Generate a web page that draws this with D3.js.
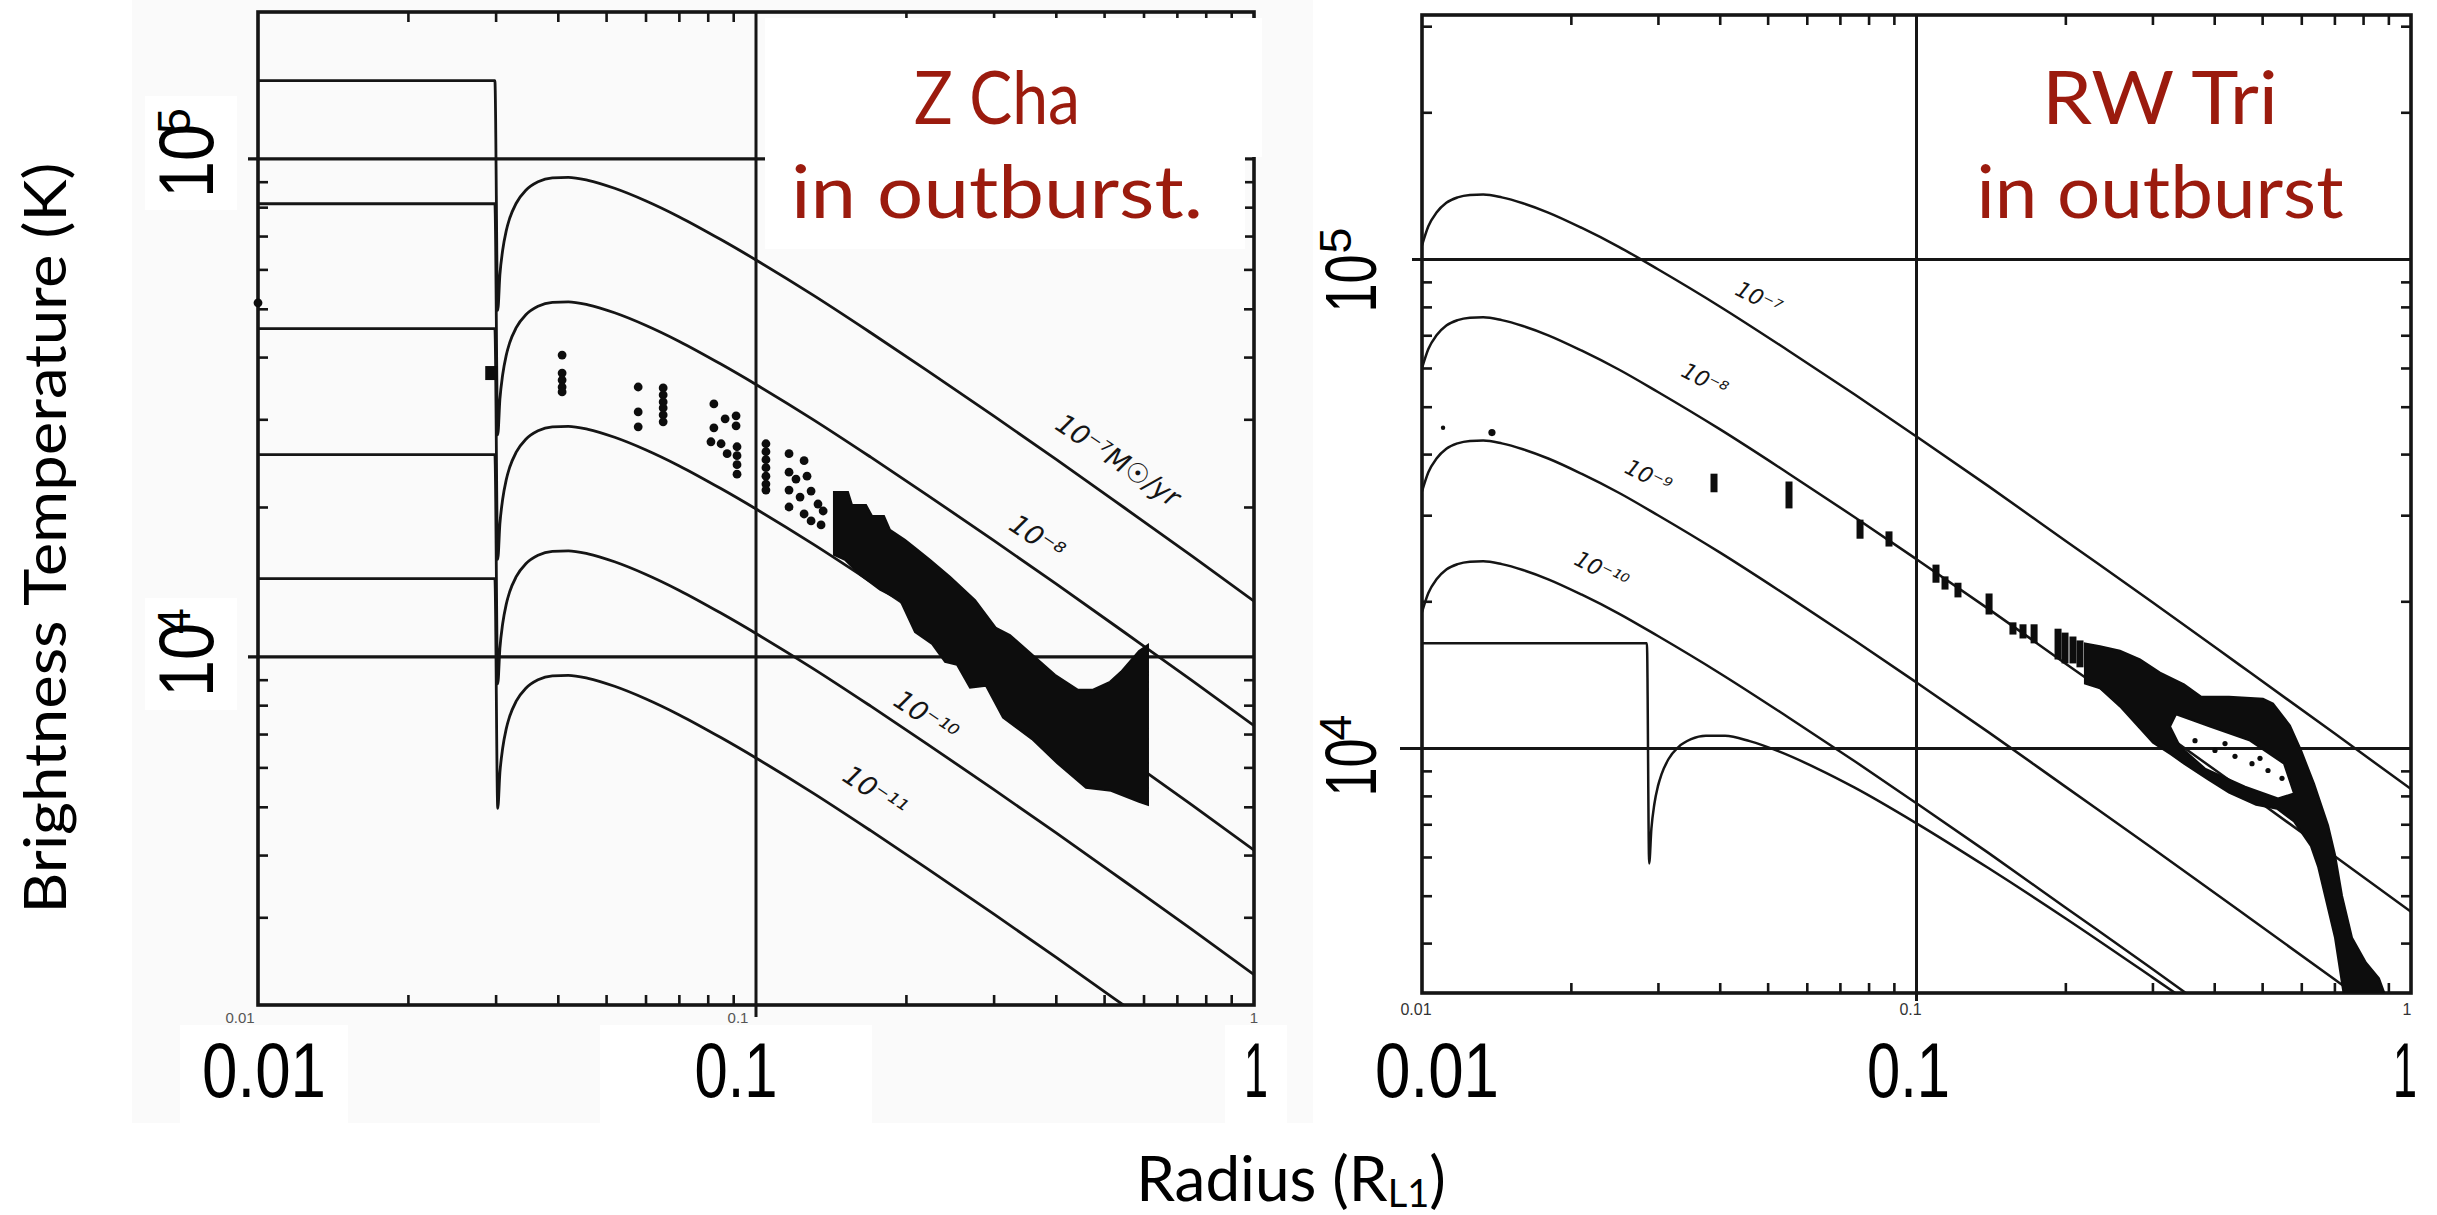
<!DOCTYPE html>
<html><head><meta charset="utf-8">
<script src="https://d3js.org/d3.v7.min.js"></script>
<style>body{margin:0;background:#fff}svg{display:block}</style>
</head><body>
<svg id="chart" width="2437" height="1215"></svg>
<script>
// ---------------- DATA ----------------
// x: radius in units of R_L1 ; y: log10 of brightness temperature (K)
const radiusTicks = [0.01, 0.1, 1];
const radiusTickLabels = ["0.01", "0.1", "1"];
const tempDecades = [4, 5];               // log10 T of the labelled decades
const tempDecadeLabels = ["4", "5"];       // exponent of 10
const minorRadius = [0.02,0.03,0.04,0.05,0.06,0.07,0.08,0.09,0.2,0.3,0.4,0.5,0.6,0.7,0.8,0.9];
const minorTempLeft = [3e3,4e3,5e3,6e3,7e3,8e3,9e3,2e4,3e4,4e4,5e4,6e4,7e4,8e4,9e4];
const minorTempRight = [4e3,5e3,6e3,7e3,8e3,9e3,2e4,3e4,4e4,5e4,6e4,7e4,8e4,9e4,2e5,3e5];

// ---- Z Cha panel: steady-state model curves (10^-7 ... 10^-11 Msun/yr)
const zchaInnerRadius = 0.0299;
const zchaStepLogT = [5.157, 4.910, 4.659, 4.406, 4.157];
const zchaRadius = [0.0303,0.0306,0.031,0.0315,0.032,0.033,0.0345,0.0365,0.039,0.042,0.046,0.052,0.06,0.07,0.085,0.1,0.13,0.17,0.22,0.3,0.4,0.55,0.75,1.0];
const zchaModel7  = [4.696,4.767,4.817,4.855,4.880,4.911,4.937,4.954,4.962,4.963,4.957,4.941,4.916,4.884,4.838,4.797,4.727,4.651,4.576,4.484,4.397,4.299,4.203,4.112];
const zchaModel8  = [4.446,4.517,4.567,4.605,4.630,4.661,4.687,4.704,4.712,4.713,4.707,4.691,4.666,4.634,4.588,4.547,4.477,4.401,4.326,4.234,4.147,4.049,3.953,3.862];
const zchaModel9  = [4.196,4.267,4.317,4.355,4.380,4.411,4.437,4.454,4.462,4.463,4.457,4.441,4.416,4.384,4.338,4.297,4.227,4.151,4.076,3.984,3.897,3.799,3.703,3.612];
const zchaModel10 = [3.946,4.017,4.067,4.105,4.130,4.161,4.187,4.204,4.212,4.213,4.207,4.191,4.166,4.134,4.088,4.047,3.977,3.901,3.826,3.734,3.647,3.549,3.453,3.362];
const zchaModel11 = [3.696,3.767,3.817,3.855,3.880,3.911,3.937,3.954,3.962,3.963,3.957,3.941,3.916,3.884,3.838,3.797,3.727,3.651,3.576,3.484,3.397,3.299,3.203,3.112];
const zchaCurveLabels = ["10\u207B\u2077M\u2609/yr", "10\u207B\u2078", null, "10\u207B\u00B9\u2070", "10\u207B\u00B9\u00B9"];
const zchaLabelAnchors = [[0.531,4.392],[0.365,4.237],null,[0.2186,3.878],[0.1726,3.727]];

// ---- Z Cha eclipse-map points
const zchaSquare = [0.0294, 4.570];
const zchaPoints = [
 [0.01,4.711],
 [0.0408,4.606],[0.0408,4.570],[0.0408,4.556],[0.0408,4.542],[0.0408,4.532],
 [0.0580,4.542],[0.0580,4.492],[0.0580,4.462],
 [0.0651,4.540],[0.0651,4.526],[0.0651,4.512],[0.0651,4.500],[0.0651,4.486],[0.0651,4.472],
 [0.0823,4.508],[0.0867,4.478],[0.0912,4.484],[0.0823,4.460],[0.0912,4.464],[0.0812,4.432],[0.0851,4.428],
 [0.0916,4.422],[0.0875,4.408],[0.0916,4.404],[0.0916,4.386],[0.0916,4.367],
 [0.1047,4.428],[0.1047,4.412],[0.1047,4.396],[0.1047,4.380],[0.1047,4.363],[0.1047,4.347],[0.1047,4.335],
 [0.1165,4.408],[0.1249,4.394],[0.1165,4.371],[0.1203,4.357],[0.1266,4.363],[0.1165,4.335],[0.1226,4.321],
 [0.1290,4.333],[0.1165,4.301],[0.1249,4.287],[0.1290,4.273],
 [0.1332,4.307],[0.1364,4.293],[0.1351,4.265]
];
// dense part of the Z Cha map: upper edge (left->right) and lower edge (right->left)
const zchaBandUpper = [[0.1434,4.331],[0.1530,4.331],[0.1559,4.305],[0.1663,4.305],[0.1710,4.283],[0.1807,4.283],[0.1858,4.255],[0.1991,4.235],[0.2086,4.219],[0.2235,4.195],[0.2452,4.161],[0.2754,4.114],[0.3034,4.058],[0.3236,4.044],[0.3650,3.998],[0.3985,3.964],[0.4432,3.934],[0.4750,3.934],[0.5138,3.950],[0.5406,3.970],[0.5876,4.012],[0.6125,4.024]];
const zchaBandLower = [[0.6125,3.703],[0.5876,3.709],[0.5162,3.731],[0.4599,3.737],[0.4022,3.787],[0.3583,3.835],[0.3133,3.878],[0.2896,3.942],[0.2690,3.938],[0.2533,3.984],[0.2397,3.990],[0.2257,4.026],[0.2086,4.050],[0.1947,4.114],[0.1774,4.135],[0.1618,4.165],[0.1509,4.195],[0.1434,4.205]];

// ---- RW Tri panel: model curves (10^-7 ... 10^-10)
const rwRadius = [0.01,0.0103,0.0107,0.0112,0.0118,0.0125,0.0133,0.0145,0.016,0.018,0.021,0.025,0.03,0.04,0.055,0.075,0.1,0.14,0.2,0.3,0.45,0.7,1.0];
const rwModel7  = [5.029,5.068,5.096,5.116,5.127,5.132,5.133,5.127,5.115,5.096,5.065,5.026,4.980,4.904,4.814,4.724,4.638,4.536,4.425,4.299,4.171,4.031,3.917];
const rwModel8  = [4.778,4.817,4.845,4.865,4.876,4.881,4.882,4.876,4.864,4.845,4.814,4.775,4.729,4.653,4.563,4.473,4.387,4.285,4.174,4.048,3.920,3.780,3.666];
const rwModel9  = [4.526,4.565,4.593,4.613,4.624,4.629,4.630,4.624,4.612,4.593,4.562,4.523,4.477,4.401,4.311,4.221,4.135,4.033,3.922,3.796,3.668,3.528,3.414];
const rwModel10 = [4.279,4.318,4.346,4.366,4.377,4.382,4.383,4.377,4.365,4.346,4.315,4.276,4.230,4.154,4.064,3.974,3.888,3.786,3.675,3.549,3.421,3.281,3.167];
const rwCurveLabels = ["10\u207B\u2077", "10\u207B\u2078", "10\u207B\u2079", "10\u207B\u00B9\u2070"];
const rwLabelAnchors = [[0.0478,4.918],[0.0372,4.751],[0.0286,4.554],[0.0230,4.362]];
// extra curve with a larger inner radius
const rwWideInnerRadius = 0.0285;
const rwWideStepLogT = 4.215;
const rwWideRadius = [0.0288,0.0291,0.0295,0.03,0.0305,0.0315,0.033,0.035,0.0375,0.041,0.046,0.053,0.063,0.075,0.1,0.14,0.2,0.3,0.4];
const rwWideModel  = [3.765,3.836,3.886,3.923,3.947,3.978,4.003,4.019,4.026,4.026,4.015,3.993,3.959,3.920,3.847,3.755,3.653,3.532,3.445];

// ---- RW Tri eclipse-map points
const rwPoints = [[0.01103,4.656,2.2],[0.01385,4.646,3.6]];
const rwBars = [[0.03895,4.524,4.562],[0.05523,4.491,4.546],[0.07688,4.429,4.468],[0.08798,4.413,4.444],
 [0.1095,4.339,4.376],[0.1142,4.325,4.352],[0.1213,4.309,4.339],[0.1402,4.274,4.317],[0.1567,4.233,4.258],
 [0.1642,4.225,4.254],[0.1729,4.215,4.254],[0.1933,4.182,4.245],[0.1997,4.174,4.237],[0.2072,4.174,4.229],[0.2141,4.166,4.221]];
const rwBandUpper = [[0.2191,4.215],[0.2350,4.209],[0.2579,4.200],[0.2831,4.182],[0.3108,4.155],[0.3475,4.131],[0.3761,4.106],[0.4285,4.106],[0.5020,4.102],[0.5260,4.092],[0.5691,4.047],[0.5994,3.996],[0.6366,3.928],[0.6796,3.843],[0.7020,3.783],[0.7253,3.699],[0.7599,3.613],[0.8110,3.562],[0.8614,3.530],[0.8984,3.480]];
const rwBandLower = [[0.7354,3.480],[0.7020,3.613],[0.6701,3.699],[0.6485,3.759],[0.6278,3.800],[0.5799,3.851],[0.5358,3.877],[0.4860,3.885],[0.4285,3.910],[0.3886,3.937],[0.3475,3.969],[0.3271,3.988],[0.3008,4.012],[0.2579,4.086],[0.2350,4.123],[0.2191,4.133]];
const rwBandHole = [[0.3348,4.070],[0.3922,4.045],[0.4725,4.016],[0.5536,3.969],[0.5799,3.908],[0.5383,3.898],[0.4617,3.922],[0.3832,3.959],[0.3411,4.004],[0.3256,4.045]];
const rwHolePoints = [[0.3658,4.016],[0.4014,3.996],[0.4406,3.984],[0.4769,3.969],[0.5138,3.955],[0.5484,3.939],[0.4206,4.010],[0.4950,3.980]];

const titleLeft = ["Z Cha", "in outburst."];
const titleRight = ["RW Tri", "in outburst"];
const yTitle = "Brightness Temperature (K)";
const xTitle = ["Radius (R", "L1", ")"];

// ---------------- DRAWING ----------------
const ink = "#151515";
const red = "#9b1b0e";
const svg = d3.select("#chart");
const defs = svg.append("defs");

function makePanel(cfg){
  const P = Object.assign({}, cfg);
  P.x = d3.scaleLog().domain([0.01, 1]).range([cfg.x0, cfg.x1]);
  P.y = d3.scaleLinear().domain(cfg.logTDomain).range([cfg.yBot, cfg.yTop]);
  defs.append("clipPath").attr("id", "clip" + cfg.id).append("rect")
    .attr("x", cfg.x0).attr("y", cfg.yTop).attr("width", cfg.x1 - cfg.x0).attr("height", cfg.yBot - cfg.yTop);
  return P;
}
const PL = makePanel({id:"L", x0:258, x1:1254, yTop:12, yBot:1005, logTDomain:[3.301, 5.295]});
const PR = makePanel({id:"R", x0:1422, x1:2411, yTop:15, yBot:993, logTDomain:[3.5, 5.5]});

// light scanned-paper background of the left figure
svg.append("rect").attr("x", 132).attr("y", 0).attr("width", 1181).attr("height", 1123).attr("fill", "#fafafa");

function frameAndTicks(P, minorT, g){
  const mk = (axis, tr) => {
    const a = g.append("g").attr("transform", tr).call(axis);
    a.select(".domain").remove();
    a.selectAll("line").attr("stroke", ink).attr("stroke-width", 2.6);
    a.selectAll("text").remove();
  };
  const yMinor = minorT.map(Math.log10);
  mk(d3.axisBottom(P.x).tickValues(minorRadius).tickSize(-10), `translate(0,${P.yBot})`);
  mk(d3.axisTop(P.x).tickValues(minorRadius).tickSize(-10), `translate(0,${P.yTop})`);
  mk(d3.axisLeft(P.y).tickValues(yMinor).tickSize(-10), `translate(${P.x0},0)`);
  mk(d3.axisRight(P.y).tickValues(yMinor).tickSize(-10), `translate(${P.x1},0)`);
  g.append("rect").attr("x", P.x0).attr("y", P.yTop).attr("width", P.x1 - P.x0).attr("height", P.yBot - P.yTop)
    .attr("fill", "none").attr("stroke", ink).attr("stroke-width", 3.6);
}

const gL = svg.append("g"), gR = svg.append("g");
frameAndTicks(PL, minorTempLeft, gL);
frameAndTicks(PR, minorTempRight, gR);

function hline(g, P, logT, r0px, r1px, w){
  g.append("line").attr("x1", r0px).attr("x2", r1px).attr("y1", P.y(logT)).attr("y2", P.y(logT))
    .attr("stroke", ink).attr("stroke-width", w);
}
// grid / decade lines
hline(gL, PL, tempDecades[0], PL.x0 - 10, PL.x1, 3.2);
hline(gL, PL, tempDecades[1], PL.x0 - 10, PL.x(0.106), 3.2);
hline(gL, PL, tempDecades[1], PL.x1 - 26, PL.x1, 3.2);
gL.append("line").attr("x1", PL.x(0.1)).attr("x2", PL.x(0.1)).attr("y1", PL.yTop).attr("y2", PL.yBot + 12)
  .attr("stroke", ink).attr("stroke-width", 3);
hline(gR, PR, tempDecades[1], PR.x0 - 10, PR.x1, 3.2);
hline(gR, PR, tempDecades[0], PR.x0 - 22, PR.x1, 3.2);
gR.append("line").attr("x1", PR.x(0.1)).attr("x2", PR.x(0.1)).attr("y1", PR.yTop).attr("y2", PR.yBot + 8)
  .attr("stroke", ink).attr("stroke-width", 3);

// model curves
function curvePoints(stepLogT, inner, radius, logT){
  const pts = [];
  if (stepLogT != null) { pts.push([0.01, stepLogT]); pts.push([inner, stepLogT]); }
  radius.forEach((r, i) => pts.push([r, logT[i]]));
  return pts;
}
function drawCurves(P, g, list, width){
  const line = d3.line().x(d => P.x(d[0])).y(d => P.y(d[1])).curve(d3.curveMonotoneX);
  const cg = g.append("g").attr("clip-path", `url(#clip${P.id})`);
  cg.selectAll("path.model").data(list).join("path").attr("class", "model")
    .attr("d", line).attr("fill", "none").attr("stroke", ink).attr("stroke-width", width)
    .attr("stroke-linejoin", "round");
}
const zchaModels = [zchaModel7, zchaModel8, zchaModel9, zchaModel10, zchaModel11];
drawCurves(PL, gL, zchaModels.map((m, i) => curvePoints(zchaStepLogT[i], zchaInnerRadius, zchaRadius, m)), 2.8);
const rwModels = [rwModel7, rwModel8, rwModel9, rwModel10];
drawCurves(PR, gR, rwModels.map(m => curvePoints(null, null, rwRadius, m)).concat(
  [curvePoints(rwWideStepLogT, rwWideInnerRadius, rwWideRadius, rwWideModel)]), 2.5);

// curve labels
function curveLabels(P, g, labels, anchors, size, angle){
  labels.forEach((t, i) => {
    if (!t) return;
    g.append("text").attr("transform", `translate(${P.x(anchors[i][0])},${P.y(anchors[i][1])}) rotate(${angle})`)
      .attr("text-anchor", "middle").attr("dominant-baseline", "middle")
      .attr("font-family", "DejaVu Sans, sans-serif").attr("font-style", "italic")
      .attr("font-size", size).attr("fill", ink).text(t);
  });
}
curveLabels(PL, gL, zchaCurveLabels, zchaLabelAnchors, 27, 34);
curveLabels(PR, gR, rwCurveLabels, rwLabelAnchors, 22, 27);

// observations
function drawBand(P, g, upper, lower, hole){
  const line = d3.line().x(d => P.x(d[0])).y(d => P.y(d[1]));
  let d = line(upper.concat(lower)) + "Z";
  if (hole) d += line(hole) + "Z";
  g.append("path").attr("clip-path", `url(#clip${P.id})`).attr("d", d)
    .attr("fill", "#0d0d0d").attr("fill-rule", "evenodd").attr("stroke", "#0d0d0d").attr("stroke-width", 2);
}
drawBand(PL, gL, zchaBandUpper, zchaBandLower, null);
gL.selectAll("circle.pt").data(zchaPoints).join("circle").attr("class", "pt")
  .attr("cx", d => PL.x(d[0])).attr("cy", d => PL.y(d[1])).attr("r", 4.4).attr("fill", "#0d0d0d");
gL.append("rect").attr("x", PL.x(zchaSquare[0]) - 6).attr("y", PL.y(zchaSquare[1]) - 7)
  .attr("width", 12).attr("height", 14).attr("fill", "#0d0d0d");

drawBand(PR, gR, rwBandUpper, rwBandLower, rwBandHole);
gR.selectAll("circle.hp").data(rwHolePoints).join("circle").attr("class", "hp")
  .attr("cx", d => PR.x(d[0])).attr("cy", d => PR.y(d[1])).attr("r", 2.6).attr("fill", "#0d0d0d");
gR.selectAll("circle.pt").data(rwPoints).join("circle").attr("class", "pt")
  .attr("cx", d => PR.x(d[0])).attr("cy", d => PR.y(d[1])).attr("r", d => d[2]).attr("fill", "#0d0d0d");
gR.selectAll("rect.bar").data(rwBars).join("rect").attr("class", "bar")
  .attr("x", d => PR.x(d[0]) - 3.5).attr("width", 7)
  .attr("y", d => PR.y(d[2])).attr("height", d => PR.y(d[1]) - PR.y(d[2])).attr("fill", "#0d0d0d");

// ---- title boxes & titles
svg.append("rect").attr("x", 765).attr("y", 18).attr("width", 497).attr("height", 139).attr("fill", "#fff");
svg.append("rect").attr("x", 765).attr("y", 157).attr("width", 480).attr("height", 92).attr("fill", "#fff");
function title(lines, cx, lens){
  lines.forEach((t, i) => svg.append("text").attr("x", cx).attr("y", 124 + i * 94).attr("text-anchor", "middle")
    .attr("font-family", "Lato, 'Open Sans', sans-serif").attr("font-size", 74).attr("fill", red)
    .attr("textLength", lens[i]).attr("lengthAdjust", "spacingAndGlyphs").text(t));
}
title(titleLeft, 997, [166, 412]);
title(titleRight, 2160, [236, 367]);

// ---- big axis tick labels (pasted on white boxes)
const labelFont = "'Liberation Sans Narrow', 'Liberation Sans', Lato, sans-serif";
const bottomLeftOffsets = [6, -20, 2], bottomRightOffsets = [15, -8, -6];
const bottomLabelLen = [124, 83, 24];
const boxW = [168, 272, 62];
radiusTicks.forEach((v, i) => {
  const cx = PL.x(v) + bottomLeftOffsets[i];
  svg.append("rect").attr("x", cx - boxW[i] / 2).attr("y", 1025).attr("width", boxW[i]).attr("height", 98).attr("fill", "#fff");
});
// small original radius labels just under each frame
radiusTicks.forEach((v, i) => {
  svg.append("text").attr("x", PR.x(v) - (i === 2 ? 4 : 6)).attr("y", PR.yBot + 22).attr("text-anchor", "middle")
    .attr("font-family", labelFont).attr("font-size", 16).attr("fill", "#333").text(radiusTickLabels[i]);
  svg.append("text").attr("x", PL.x(v) - (i === 2 ? 0 : 18)).attr("y", PL.yBot + 18).attr("text-anchor", "middle")
    .attr("font-family", labelFont).attr("font-size", 15).attr("fill", "#555").text(radiusTickLabels[i]);
});
radiusTicks.forEach((v, i) => {
  [[PL, bottomLeftOffsets], [PR, bottomRightOffsets]].forEach(([P, off]) => {
    svg.append("text").attr("x", P.x(v) + off[i]).attr("y", 1097).attr("text-anchor", "middle")
      .attr("font-family", labelFont).attr("font-size", 78).attr("fill", "#000")
      .attr("textLength", bottomLabelLen[i]).attr("lengthAdjust", "spacingAndGlyphs").text(radiusTickLabels[i]);
  });
});
// 10^n labels, rotated
function decadeLabel(P, logT, baseX, supX, dyBase, dySup, size, supSize, len, supLen){
  const y0 = P.y(logT);
  svg.append("text").attr("transform", `translate(${baseX},${y0 + dyBase}) rotate(-90)`)
    .attr("font-family", labelFont).attr("font-size", size).attr("fill", "#000")
    .attr("textLength", len).attr("lengthAdjust", "spacingAndGlyphs").text("10");
  svg.append("text").attr("transform", `translate(${supX},${y0 + dySup}) rotate(-90)`)
    .attr("font-family", labelFont).attr("font-size", supSize).attr("fill", "#000")
    .attr("textLength", supLen).attr("lengthAdjust", "spacingAndGlyphs")
    .text(tempDecadeLabels[tempDecades.indexOf(logT)]);
}
svg.append("rect").attr("x", 145).attr("y", 96).attr("width", 92).attr("height", 114).attr("fill", "#fff");
svg.append("rect").attr("x", 145).attr("y", 598).attr("width", 92).attr("height", 112).attr("fill", "#fff");
decadeLabel(PL, 5, 213, 190, 39, -25, 78, 46, 74, 26);
decadeLabel(PL, 4, 213, 190, 40, -23, 78, 46, 74, 26);
decadeLabel(PR, 5, 1376, 1351, 53, -6, 72, 44, 58, 26);
decadeLabel(PR, 4, 1376, 1351, 48, -8, 72, 44, 58, 26);

// axis titles
svg.append("text").attr("transform", "translate(66,538) rotate(-90)").attr("text-anchor", "middle")
  .attr("font-family", "Lato, 'Open Sans', sans-serif").attr("font-size", 58).attr("fill", "#000")
  .attr("textLength", 751).attr("lengthAdjust", "spacingAndGlyphs").text(yTitle);
const xt = svg.append("text").attr("x", 1291).attr("y", 1201).attr("text-anchor", "middle")
  .attr("font-family", "Lato, 'Open Sans', sans-serif").attr("font-size", 62).attr("fill", "#000");
xt.append("tspan").text(xTitle[0]);
xt.append("tspan").attr("font-size", 38).attr("dy", 6).text(xTitle[1]);
xt.append("tspan").attr("dy", -6).text(xTitle[2]);
</script>
</body></html>
